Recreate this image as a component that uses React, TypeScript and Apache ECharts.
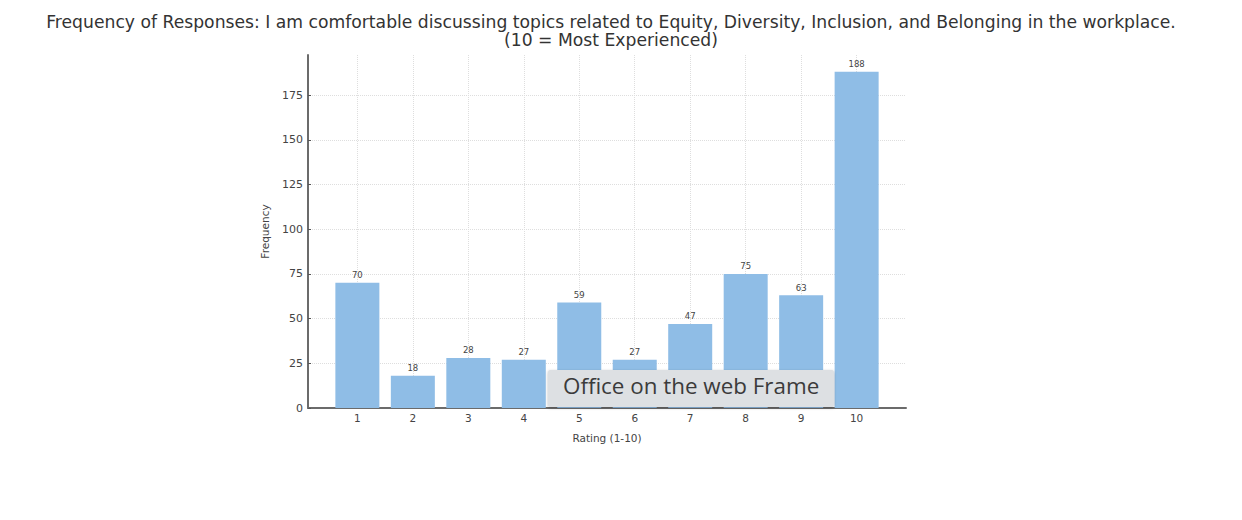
import React, { useEffect, useRef } from "react";
import * as echarts from "echarts";

const ratings = [1, 2, 3, 4, 5, 6, 7, 8, 9, 10];
const counts = [70, 18, 28, 27, 59, 27, 47, 75, 63, 188];
const yTicks = [0, 25, 50, 75, 100, 125, 150, 175];
const titleLines = [
  "Frequency of Responses: I am comfortable discussing topics related to Equity, Diversity, Inclusion, and Belonging in the workplace.",
  "(10 = Most Experienced)",
];
const overlayText = "Office on the web Frame";

export default function App() {
  const ref = useRef<HTMLDivElement>(null);
  useEffect(() => {
    if (!ref.current) return;
    const chart = echarts.init(ref.current, undefined, { renderer: "svg" });
    const font = "DejaVu Sans";
    const gridColors = yTicks.map(() => "#dedede").concat(["rgba(0,0,0,0)"]);
    chart.setOption({
      animation: false,
      backgroundColor: "#ffffff",
      title: {
        text: titleLines.join("\n"),
        left: 606,
        textAlign: "center",
        top: 8,
        textStyle: {
          fontFamily: font,
          fontSize: 17.2,
          fontWeight: "normal",
          color: "#333333",
          lineHeight: 18,
        },
      },
      grid: { left: 308, top: 55, right: 336, bottom: 112, containLabel: false },
      xAxis: {
        type: "value",
        min: 0.11,
        max: 10.89,
        name: "Rating (1-10)",
        nameLocation: "middle",
        nameGap: 24,
        nameTextStyle: { fontFamily: font, fontSize: 10.5, color: "#444" },
        axisLine: { show: true, lineStyle: { color: "#6b6b6b", width: 2 } },
        axisTick: { show: true, customValues: ratings, length: 3, inside: true, lineStyle: { color: "#555" } },
        axisLabel: { customValues: ratings, fontFamily: font, fontSize: 10.5, color: "#444", margin: 4 },
        splitLine: { show: true, lineStyle: { color: "#dedede", type: "dotted", width: 1 } },
      },
      yAxis: {
        type: "value",
        min: 0,
        max: 197.4,
        interval: 25,
        name: "Frequency",
        nameLocation: "middle",
        nameGap: 38,
        nameRotate: 90,
        nameTextStyle: { fontFamily: font, fontSize: 10.5, color: "#444" },
        axisLine: { show: true, lineStyle: { color: "#6b6b6b", width: 2 } },
        axisTick: { show: true, length: 3, inside: true, lineStyle: { color: "#555" } },
        axisLabel: {
          fontFamily: font,
          fontSize: 11,
          color: "#444",
          margin: 5,
          showMaxLabel: false,
        },
        splitLine: { show: true, lineStyle: { color: gridColors, type: "dotted", width: 1 } },
      },
      series: [
        {
          type: "bar",
          data: ratings.map((r, i) => [r, counts[i]]),
          barWidth: 44,
          itemStyle: { color: "#8fbde6" },
          label: {
            show: true,
            position: "top",
            distance: 3,
            fontFamily: font,
            fontSize: 8.5,
            color: "#444",
            formatter: (p: any) => String(p.value[1]),
          },
        },
      ],
      graphic: [
        {
          type: "rect",
          left: 548,
          top: 370,
          shape: { width: 286, height: 37, r: 2 },
          style: {
            fill: "#dde0e3",
            shadowBlur: 3,
            shadowColor: "rgba(0,0,0,0.25)",
            shadowOffsetY: 1,
          },
          z: 100,
        },
        {
          type: "text",
          left: 563,
          top: 374,
          style: {
            text: overlayText,
            fontFamily: "Open Sans",
            fontSize: 22.4,
            fill: "#3b3b3b",
          },
          z: 101,
        },
      ],
    });
    return () => chart.dispose();
  }, []);
  return (
    <div
      ref={ref}
      style={{ position: "fixed", left: 0, top: 0, width: 1242, height: 520 }}
    />
  );
}
